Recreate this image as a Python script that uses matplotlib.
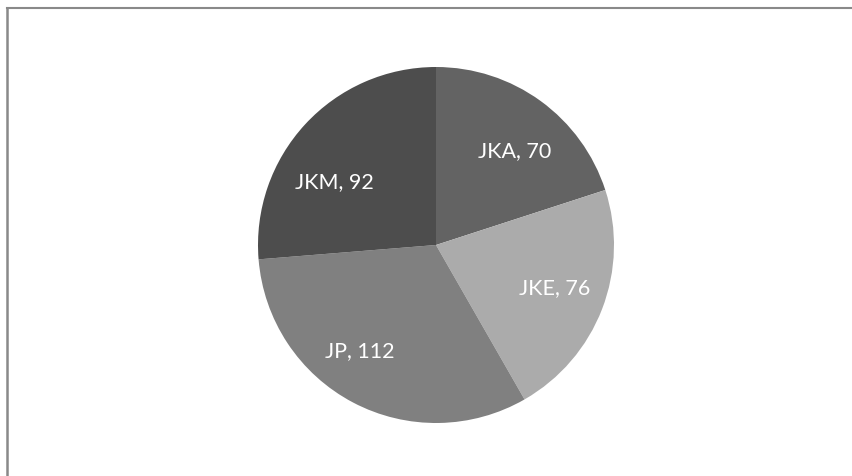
import matplotlib.pyplot as plt
from matplotlib.lines import Line2D

labels = ["JKA", "JKE", "JP", "JKM"]
values = [70, 76, 112, 92]
colors = ["#636363", "#ababab", "#808080", "#4d4d4d"]

# where the data labels sit (baseline, in pie radius units)
label_pos = [(0.441, 0.500), (0.669, -0.270), (-0.430, -0.624), (-0.570, 0.326)]

fig = plt.figure(figsize=(8.53, 4.77), dpi=100)
ax = fig.add_axes([258 / 853, 53 / 477, 356 / 853, 356 / 477])

texts = ["%s, %d" % (l, v) for l, v in zip(labels, values)]
wedges, txt = ax.pie(values, labels=texts, colors=colors, startangle=90,
                     counterclock=False, radius=1,
                     textprops=dict(color="white", fontsize=15.5, family="Lato"))
for t, p in zip(txt, label_pos):
    t.set_position(p)
    t.set_horizontalalignment("center")
    t.set_verticalalignment("baseline")
ax.set_xlim(-1, 1)
ax.set_ylim(-1, 1)
ax.set_aspect("equal")
ax.axis("off")

# frame lines of the chart area
fig.add_artist(Line2D([7 / 853, 1], [1 - 9 / 477, 1 - 9 / 477], color="#898989", lw=1.5))
fig.add_artist(Line2D([7 / 853, 7 / 853], [0, 1 - 9 / 477], color="#898989", lw=1.8))

fig.savefig("out.png", dpi=100)
